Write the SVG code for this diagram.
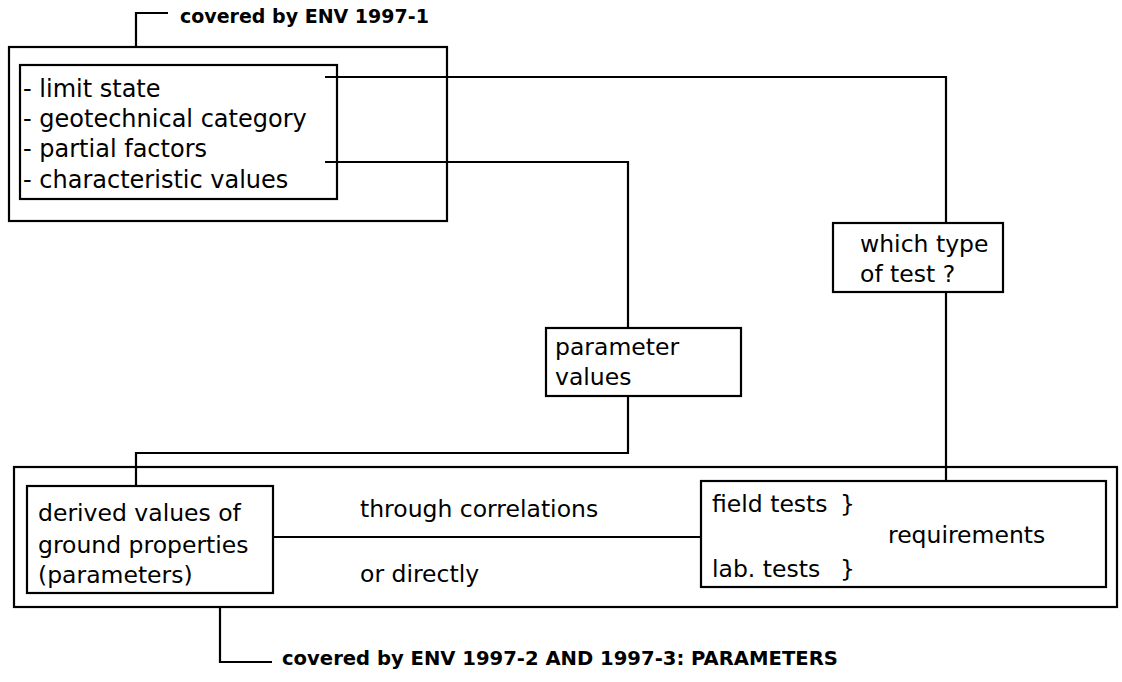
<svg xmlns="http://www.w3.org/2000/svg" width="1122" height="682" viewBox="0 0 1122 682">
<style>
.box{fill:none;stroke:#000;stroke-width:2.2}
.ln{fill:none;stroke:#000;stroke-width:2.2}
.t{font-family:"DejaVu Sans",sans-serif;font-size:23.5px;fill:#000}
.tt{font-family:"DejaVu Sans",sans-serif;font-size:24px;fill:#000}
.b{font-family:"DejaVu Sans",sans-serif;font-weight:bold;fill:#000}
</style>
<rect width="1122" height="682" fill="#fff"/>
<g id="group-env1">
<rect class="box" x="9" y="47" width="438" height="174"/>
<path class="ln" d="M136 47 V13 H168"/>
<text class="b" x="180" y="23" font-size="19">covered by ENV 1997-1</text>
</g>
<g id="node-design">
<rect class="box" x="20" y="65" width="317" height="134"/>
<text class="tt" x="23" y="97">- limit state</text>
<text class="tt" x="23" y="127">- geotechnical category</text>
<text class="tt" x="23" y="157">- partial factors</text>
<text class="tt" x="23" y="188">- characteristic values</text>
</g>
<g id="node-test-type">
<rect class="box" x="833" y="223" width="170" height="69"/>
<text class="t" x="860" y="252">which type</text>
<text class="t" x="860" y="282">of test ?</text>
</g>
<g id="node-parameter-values">
<rect class="box" x="546" y="328" width="195" height="68"/>
<text class="t" x="555" y="355">parameter</text>
<text class="t" x="555" y="385">values</text>
</g>
<g id="group-env2-3">
<rect class="box" x="14" y="467" width="1103" height="140"/>
<path class="ln" d="M220 607 V662 H272"/>
<text class="b" x="282" y="665" font-size="19.6">covered by ENV 1997-2 AND 1997-3: PARAMETERS</text>
</g>
<g id="node-derived">
<rect class="box" x="27" y="486" width="246" height="107"/>
<text class="t" x="38" y="521">derived values of</text>
<text class="t" x="38" y="553">ground properties</text>
<text class="t" x="38" y="583">(parameters)</text>
</g>
<g id="node-tests">
<rect class="box" x="701" y="481" width="405" height="106"/>
<text class="t" x="712" y="512">field tests <tspan x="840">}</tspan></text>
<text class="t" x="888" y="543">requirements</text>
<text class="t" x="712" y="577">lab. tests <tspan x="840">}</tspan></text>
</g>
<g id="connectors">
<path class="ln" d="M325 77 H946 V223"/>
<path class="ln" d="M325 162 H628 V328"/>
<path class="ln" d="M628 396 V453 H136 V486"/>
<path class="ln" d="M946 292 V481"/>
<path class="ln" d="M273 537 H701"/>
<text class="t" x="360" y="517">through correlations</text>
<text class="t" x="360" y="582">or directly</text>
</g>
</svg>
